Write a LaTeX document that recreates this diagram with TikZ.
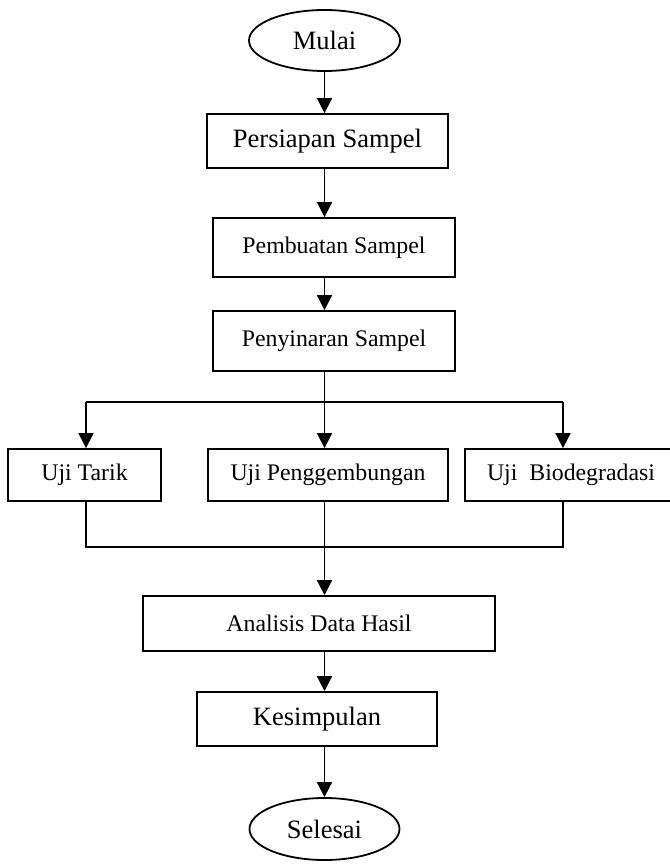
\documentclass[tikz,border=0pt]{standalone}
\usepackage{fontspec}
\setmainfont{Liberation Serif}
\usetikzlibrary{shapes.geometric}
\usetikzlibrary{arrows.meta}

\begin{document}
\begin{tikzpicture}[x=1pt,y=-1pt,
  kotak/.style={draw,line width=1.8pt,rectangle,inner sep=0pt,font=\fontsize{23.8}{28}\selectfont},
  besar/.style={font=\fontsize{26.5}{31}\selectfont},
  elips/.style={draw,line width=1.8pt,ellipse,inner sep=0pt,minimum width=151pt,minimum height=61pt,font=\fontsize{26.5}{31}\selectfont},
  panah/.style={line width=1.8pt,-{Triangle[width=15pt,length=15pt]}},
  garis/.style={line width=1.8pt}]
\useasboundingbox (0,0) rectangle (669,864);
\node[elips] (mulai) at (324.5,40.5) {Mulai};
\node[kotak,besar,minimum width=241pt,minimum height=54pt] (persiapan) at (327.5,141) {Persiapan Sampel};
\node[kotak,minimum width=242pt,minimum height=59pt] (pembuatan) at (334,247.5) {Pembuatan Sampel};
\node[kotak,minimum width=242pt,minimum height=60pt] (penyinaran) at (334,341) {Penyinaran Sampel};
\node[kotak,minimum width=153pt,minimum height=52pt] (tarik) at (84.5,475) {Uji Tarik};
\node[kotak,minimum width=240pt,minimum height=52pt] (kembang) at (328,475) {Uji Penggembungan};
\node[kotak,minimum width=212pt,minimum height=52pt] (biodeg) at (571,475) {Uji~~Biodegradasi};
\node[kotak,minimum width=352pt,minimum height=55pt] (analisis) at (319,623.5) {Analisis Data Hasil};
\node[kotak,besar,minimum width=240pt,minimum height=54pt] (simpul) at (317,719) {Kesimpulan};
\node[elips,minimum width=150pt,minimum height=62pt] (selesai) at (324.5,829) {Selesai};
\coordinate (trunk) at (324.5,0);
\coordinate (cabangL) at (86,402);
\coordinate (cabangR) at (563,402);
\coordinate (gabungL) at (86,547);
\coordinate (gabungR) at (563,547);
\draw[panah] (mulai.south) -- (trunk |- persiapan.north);
\draw[panah] (trunk |- persiapan.south) -- (trunk |- pembuatan.north);
\draw[panah] (trunk |- pembuatan.south) -- (trunk |- penyinaran.north);
\draw[panah] (trunk |- penyinaran.south) -- (trunk |- kembang.north);
\draw[garis] (cabangL) -- (cabangR);
\draw[panah] (cabangL) -- (cabangL |- tarik.north);
\draw[panah] (cabangR) -- (cabangR |- biodeg.north);
\draw[garis] (cabangL |- tarik.south) -- (gabungL) -- (gabungR) -- (cabangR |- biodeg.south);
\draw[panah] (trunk |- kembang.south) -- (trunk |- analisis.north);
\draw[panah] (trunk |- analisis.south) -- (trunk |- simpul.north);
\draw[panah] (trunk |- simpul.south) -- (selesai.north);
\end{tikzpicture}
\end{document}
